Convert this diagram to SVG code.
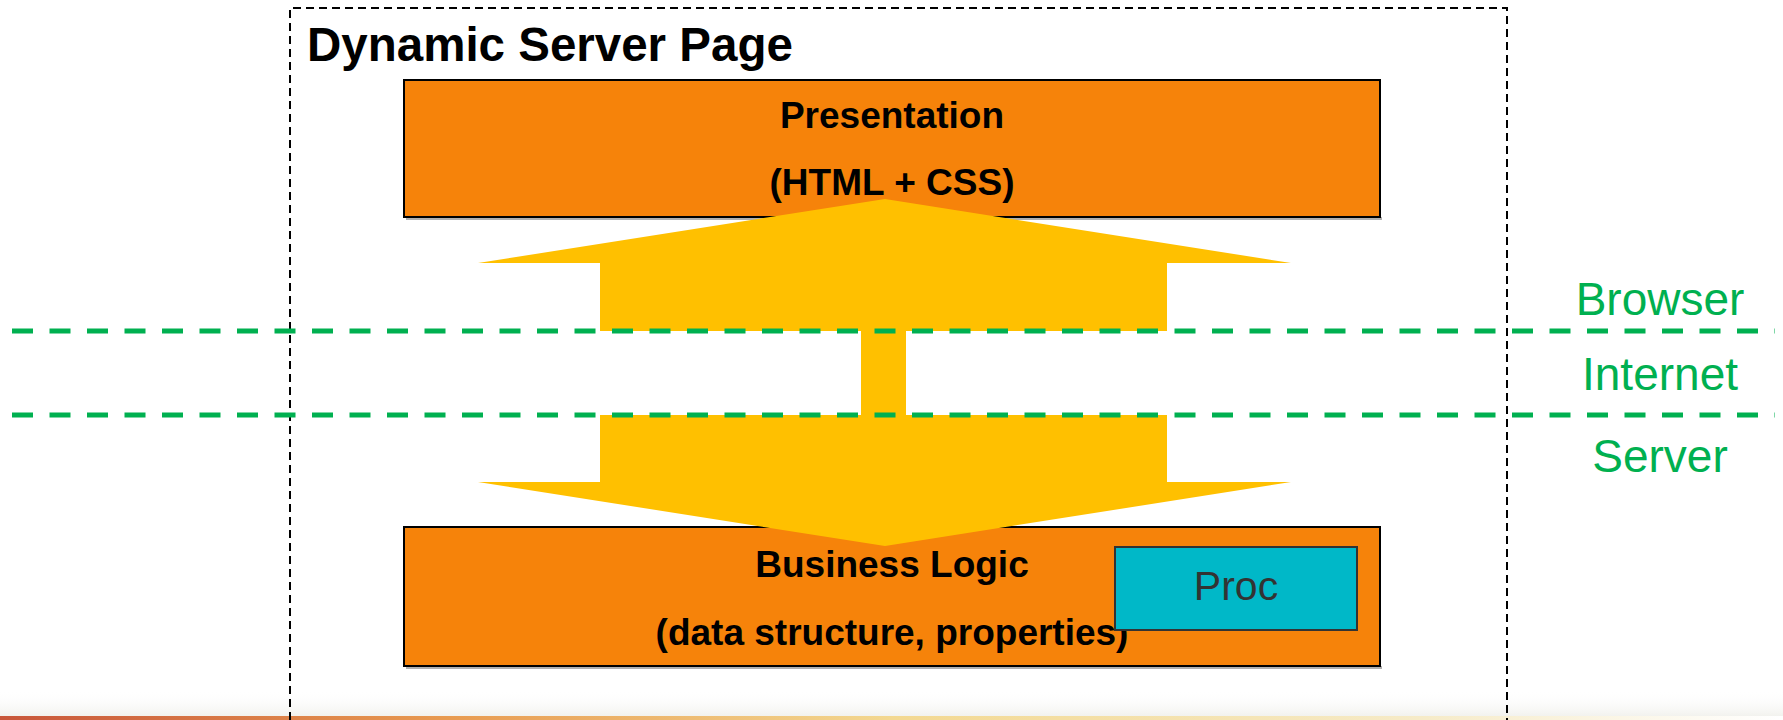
<svg xmlns="http://www.w3.org/2000/svg" width="1783" height="720" viewBox="0 0 1783 720">
<style>
.box{fill:#F6830A;stroke:#000;stroke-width:2}
.shadow{fill:#B0B0B0}
.bt{font-family:"Liberation Sans",Arial,sans-serif;font-weight:bold;font-size:37px;fill:#000;text-anchor:middle}
.zone{font-family:"Liberation Sans",Arial,sans-serif;font-size:46px;fill:#00B050;text-anchor:middle}
.gl{stroke:#00B050;stroke-width:5;stroke-dasharray:21 16.5;fill:none}
</style>
<defs>
<linearGradient id="band" x1="0" y1="0" x2="1" y2="0">
<stop offset="0" stop-color="#C8563A"/>
<stop offset="0.25" stop-color="#E89A50"/>
<stop offset="0.5" stop-color="#F3D890"/>
<stop offset="0.8" stop-color="#F6EBC8"/>
<stop offset="1" stop-color="#FFFFFF"/>
</linearGradient>
<linearGradient id="fade" x1="0" y1="0" x2="0" y2="1">
<stop offset="0" stop-color="#FFFFFF" stop-opacity="0"/>
<stop offset="1" stop-color="#F2F2EE" stop-opacity="1"/>
</linearGradient>
</defs>
<rect width="1783" height="720" fill="#FFFFFF"/>
<rect x="0" y="690" width="1783" height="26" fill="url(#fade)"/>
<rect x="0" y="716" width="1783" height="4" fill="url(#band)"/>

<g id="frame">
<path d="M290,720 V8 H1507 V720" fill="none" stroke="#000" stroke-width="2" stroke-dasharray="8 5"/>
<text x="307" y="61" font-family="'Liberation Sans',Arial,sans-serif" font-weight="bold" font-size="47.5" fill="#000">Dynamic Server Page</text>
</g>

<g id="presentation">
<rect class="shadow" x="406" y="217" width="976" height="3"/>
<rect class="box" x="404" y="80" width="976" height="137"/>
</g>

<g id="business-logic">
<rect class="shadow" x="406" y="666" width="976" height="3"/>
<rect class="box" x="404" y="527" width="976" height="139"/>
</g>

<g id="connectors">
<polygon fill="#FFC000" points="885,199 1291,263 1167,263 1167,331 906,331 906,415 1167,415 1167,482 1291,482 885,546 478,482 600,482 600,415 861,415 861,331 600,331 600,263 478,263"/>
</g>

<g id="presentation-label">
<text class="bt" x="892" y="128">Presentation</text>
<text class="bt" x="892" y="195">(HTML + CSS)</text>
</g>

<g id="business-logic-label">
<text class="bt" x="892" y="577">Business Logic</text>
<text class="bt" x="892" y="645">(data structure, properties)</text>
</g>

<g id="proc">
<rect x="1115" y="547" width="242" height="83" fill="#00B8C8" stroke="#333" stroke-width="2"/>
<text x="1236" y="600" font-family="'Liberation Sans',Arial,sans-serif" font-size="41" fill="#333" text-anchor="middle">Proc</text>
</g>

<g id="zones">
<line class="gl" x1="12" y1="331" x2="1775" y2="331"/>
<line class="gl" x1="12" y1="415" x2="1775" y2="415"/>
<text class="zone" x="1660" y="315">Browser</text>
<text class="zone" x="1660" y="390">Internet</text>
<text class="zone" x="1660" y="472">Server</text>
</g>
</svg>
